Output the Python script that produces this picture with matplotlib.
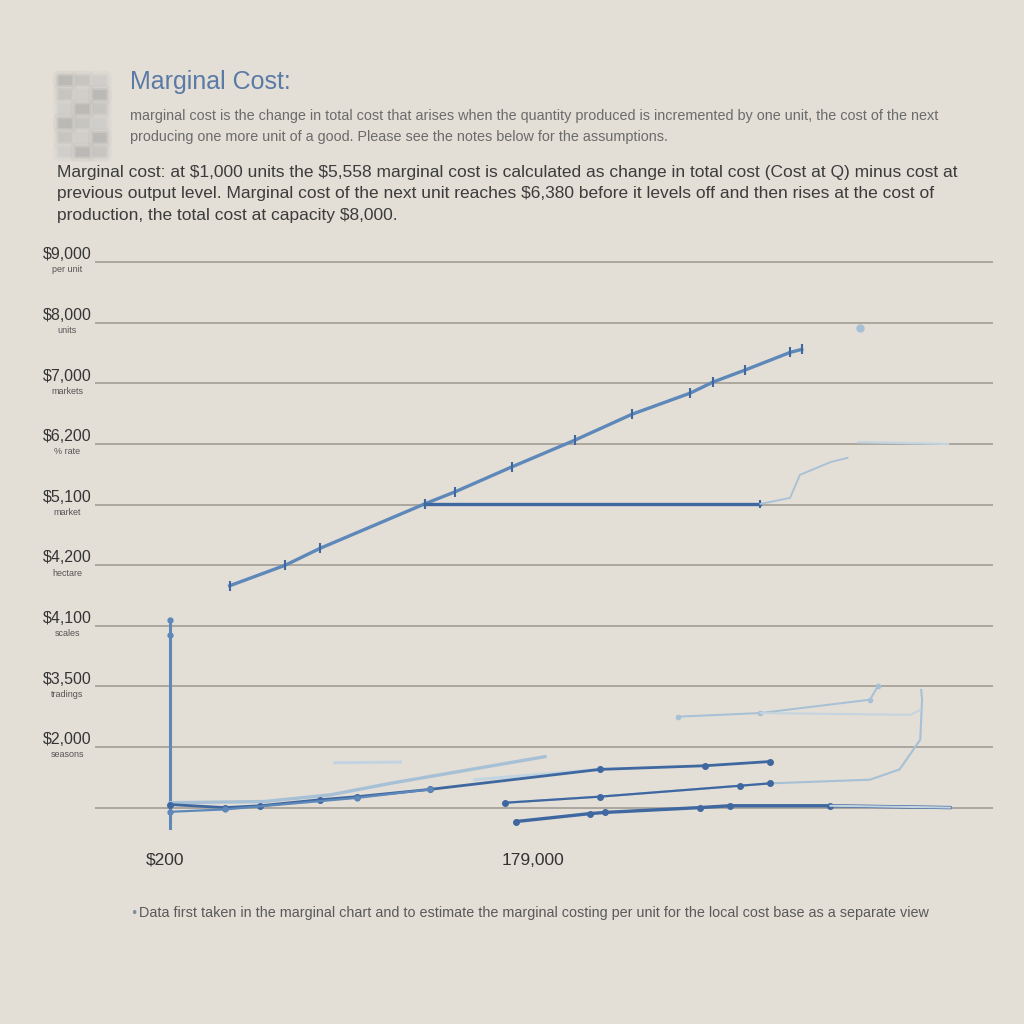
# Marginal cost chart - recreation
import matplotlib.pyplot as plt
from matplotlib.patches import FancyBboxPatch

plt.rcParams["text.parse_math"] = False

# ---------------- data ----------------
grid_values = [0, 1000, 2000, 3000, 4000, 5000, 6000, 7000, 8000, 9000]
tick_main = ["$2,000", "$3,500", "$4,100", "$4,200", "$5,100", "$6,200", "$7,000", "$8,000", "$9,000"]
tick_sub = ["seasons", "tradings", "scales", "hectare", "market", "% rate", "markets", "units", "per unit"]
x_tick_pos = [78, 488]
x_tick_labels = ["$200", "179,000"]

# main diagonal (marginal cost)
mc_x = [150, 212, 251, 367, 401, 464, 534, 598, 663, 688, 724, 774, 787]
mc_y = [3660, 4000, 4280, 5010, 5210, 5620, 6060, 6490, 6840, 7020, 7220, 7510, 7560]
# flat segment from the kink
flat_x = [367, 741]
flat_y = [5010, 5010]
flat_tail_x = [741, 774, 785, 819, 838]
flat_tail_y = [5010, 5110, 5490, 5700, 5770]
light_top_x = [850, 950]
light_top_y = [6030, 6000]
dot_x = [852]
dot_y = [7910]

# vertical axis marker line
vert_x = [83.5, 83.5, 83.5]
vert_y = [-330, 2850, 3100]

# lower cluster
a_x = [83.5, 145, 184, 251, 292, 373, 562, 679, 752]
a_y = [50, 0, 30, 130, 180, 300, 630, 690, 760]
b_x = [83.5, 189, 262, 329, 501]
b_y = [80, 100, 210, 400, 840]
b2_x = [423, 562]
b2_y = [460, 630]
c_x = [83.5, 145, 292, 373]
c_y = [-70, -30, 160, 300]
d_x = [457, 562, 718, 752, 863, 896, 919, 921, 920]
d_y = [80, 180, 360, 400, 460, 630, 1120, 1780, 1940]
e_x = [469, 551, 568, 674, 707, 819, 952]
e_y = [-230, -100, -80, 0, 30, 30, 0]
f_x = [649, 741, 863, 872]
f_y = [1500, 1560, 1780, 2010]
f2_x = [741, 908, 919]
f2_y = [1560, 1530, 1610]
g_x = [267, 340]
g_y = [740, 750]

BG = "#e3ded6"
DARK = "#3f67a0"
MID = "#5d88b9"
LIGHT = "#a6c0d6"
PALE = "#c3d4e1"
NARROW = ["Liberation Sans", "DejaVu Sans"]

fig = plt.figure(figsize=(10.24, 10.24), dpi=100, facecolor=BG)

# ---------------- header ----------------
# blurry icon (soft grey blocks)
shades = ["#9a9a9a", "#b0b0b0", "#c2c2c2"]
for r in range(6):
    for c in range(3):
        for k, pad in enumerate([0.006, 0.003, 0.001]):
            fig.patches.append(FancyBboxPatch(
                (0.058 + c * 0.017, 0.918 - r * 0.014), 0.011, 0.007,
                boxstyle=f"round,pad={pad}", transform=fig.transFigure,
                facecolor=shades[(r + c) % 3], edgecolor="none", alpha=0.12 + 0.1 * k))

fig.text(0.127, 0.920, "Marginal Cost:", fontsize=18, color="#5b7aa6",
         family=NARROW, va="center", ha="left")
fig.text(0.127, 0.887,
         "marginal cost is the change in total cost that arises when the quantity produced is incremented by one unit, the cost of the next",
         fontsize=10.4, color="#6b6b6b", family=NARROW, va="center")
fig.text(0.127, 0.866,
         "producing one more unit of a good. Please see the notes below for the assumptions.",
         fontsize=10.4, color="#6b6b6b", family=NARROW, va="center")

para = [
    "Marginal cost: at $1,000 units the $5,558 marginal cost is calculated as change in total cost (Cost at Q) minus cost at",
    "previous output level. Marginal cost of the next unit reaches $6,380 before it levels off and then rises at the cost of",
    "production, the total cost at capacity $8,000.",
]
for i, line in enumerate(para):
    fig.text(0.056, 0.832 - i * 0.021, line, fontsize=12.5, color="#3c3c3c",
             family=NARROW, va="center")

# ---------------- chart ----------------
ax = fig.add_axes([95 / 1024, 174 / 1024, 898 / 1024, 600 / 1024])
ax.set_facecolor(BG)
ax.set_xlim(0, 1000)
ax.set_ylim(-700, 9200)
for s in ax.spines.values():
    s.set_visible(False)
ax.set_yticks(grid_values)
ax.set_yticklabels([])
ax.tick_params(axis="y", length=0)
ax.yaxis.grid(True, color="#a7a39b", linewidth=1.3)
ax.set_axisbelow(True)
ax.set_xticks(x_tick_pos)
ax.set_xticklabels(x_tick_labels, fontsize=12.5, color="#333333", family=NARROW)
ax.tick_params(axis="x", length=0, pad=2)

for v, m, s in zip(grid_values[1:], tick_main, tick_sub):
    ax.text(-31, v + 120, m, fontsize=11.5, color="#353535", ha="center", va="center",
            family=NARROW, clip_on=False)
    ax.text(-31, v - 130, s, fontsize=6.5, color="#555555", ha="center", va="center",
            family=NARROW, clip_on=False)

# upper series
ax.plot(mc_x, mc_y, color=MID, lw=2.4, marker="|", ms=7, mew=1.5, mec=DARK)
ax.plot(flat_x, flat_y, color=DARK, lw=2.4, marker="|", ms=6, mew=1.5)
ax.plot(flat_tail_x, flat_tail_y, color=LIGHT, lw=1.3)
ax.plot(light_top_x, light_top_y, color=PALE, lw=1.6)
ax.plot(dot_x, dot_y, "o", color=LIGHT, ms=5)

# lower cluster
ax.plot(vert_x, vert_y, color=MID, lw=2.2, marker="o", ms=3.5, markevery=[1, 2])
ax.plot(b_x, b_y, color=LIGHT, lw=2.4)
ax.plot(b2_x, b2_y, color=PALE, lw=2.2)
ax.plot(a_x, a_y, color=DARK, lw=2.0, marker="o", ms=4)
ax.plot(c_x, c_y, color=MID, lw=1.6, marker="o", ms=3.5)
ax.plot(d_x, d_y, color=LIGHT, lw=1.5, marker="o", ms=3, markevery=[3])
ax.plot(d_x[:4], d_y[:4], color=DARK, lw=1.6, marker="o", ms=4)
ax.plot(e_x, e_y, color=DARK, lw=2.4, marker="o", ms=4, markevery=[0, 1, 2, 3, 4, 5])
ax.plot(e_x[-2:], e_y[-2:], color=PALE, lw=1.5)
ax.plot(f_x, f_y, color=LIGHT, lw=1.4, marker="o", ms=3)
ax.plot(f2_x, f2_y, color=PALE, lw=1.4)
ax.plot(g_x, g_y, color=PALE, lw=2.2)

# footer
fig.text(0.127, 0.108, "\u2022", fontsize=9, color="#7a8aa0", va="center")
fig.text(0.136, 0.108,
         "Data first taken in the marginal chart and to estimate the marginal costing per unit for the local cost base as a separate view",
         fontsize=10.4, color="#5a5a5a", family=NARROW, va="center")

fig.savefig("out.png", dpi=100, facecolor=BG)
